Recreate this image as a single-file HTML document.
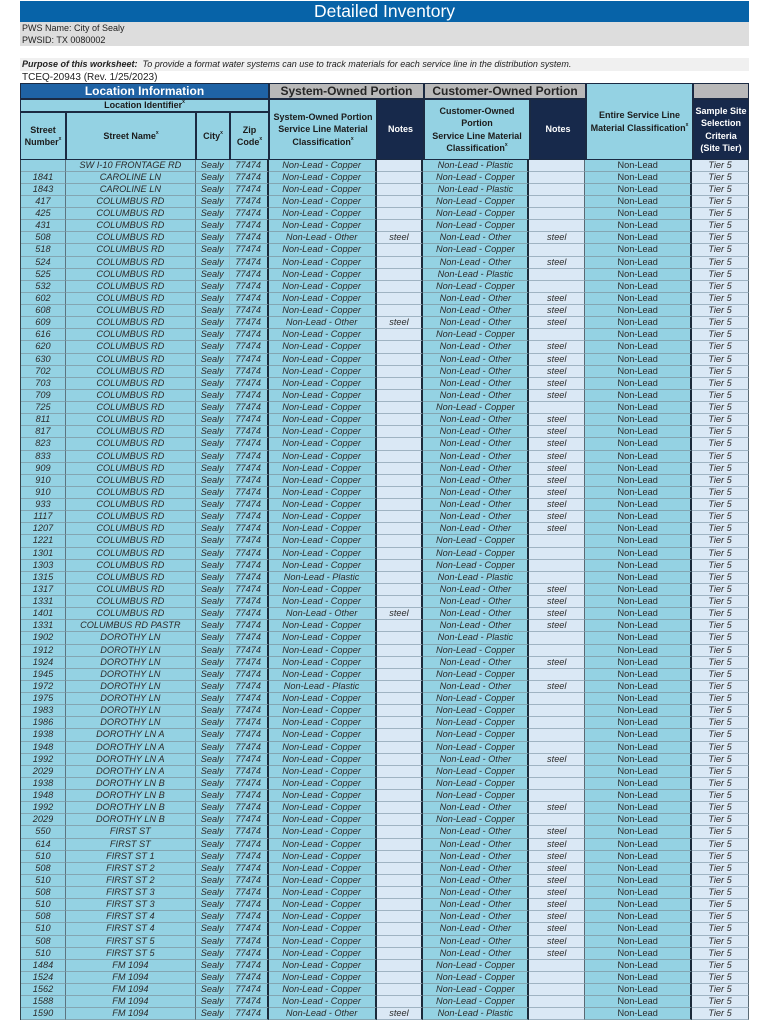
<!DOCTYPE html>
<html><head><meta charset="utf-8">
<style>
*{margin:0;padding:0;box-sizing:border-box}
body{width:770px;height:1024px;background:#fff;position:relative;overflow:hidden;font-family:"Liberation Sans",sans-serif;color:#222}
.a{position:absolute}
.t{left:20px;top:1px;width:729px;height:21px;background:#0763a8;color:#fff;font-size:17.5px;line-height:21px;text-align:center}
.pws{left:20px;top:22px;width:729px;height:24px;background:#dddddd;font-size:9px;line-height:12px;padding-left:2px;color:#222}
.pur{left:20px;top:58px;width:729px;height:13px;background:#f0f0f0;font-size:9px;line-height:13px;padding-left:2px;font-style:italic;color:#222}
.tc{left:22px;top:72px;font-size:10px;line-height:12px;color:#222}
.h{position:absolute;display:flex;align-items:center;justify-content:center;text-align:center;font-weight:bold;font-size:9px;line-height:12.5px;border:1px solid #1b2a42;color:#1c1c1c}
.h span{display:block}
.lb{background:#94d2e3}
.nv{background:#17294b;color:#fff}
.gr{background:#b9b9b9;font-size:12px;color:#262626}
.bl{background:#1f63a5;color:#fff;font-size:12px;border:1.5px solid #1b2a42}
sup{font-size:5px;vertical-align:5px;line-height:0}
#d{position:absolute;left:20px;top:159.5px;width:729px;border-left:1px solid #33444c}
.r{display:flex;height:12.14px}
.r i{display:block;height:100%;border-bottom:1px solid #83a6b2;text-align:center;font-size:9.2px;line-height:11.5px;white-space:nowrap;overflow:hidden;color:#2a2a2a;background:#94d2e3}
.r i:nth-child(1){width:45px;border-right:1px solid #5c7580}
.r i:nth-child(2){width:130px;border-right:1px solid #5c7580}
.r i:nth-child(3){width:34px;border-right:1px solid #9cbcc6}
.r i:nth-child(4){width:39px;border-right:2px solid #1b2a3a}
.r i:nth-child(5){width:108px;border-right:2px solid #1b2a3a}
.r i:nth-child(6){width:47px;border-right:2px solid #1b2a3a;background:#dae8f5;border-bottom-color:#9fb3c2}
.r i:nth-child(7){width:106px;border-right:2px solid #1b2a3a}
.r i:nth-child(8){width:56px;border-right:1px solid #5a6a74;background:#dae8f5;border-bottom-color:#9fb3c2}
.r i:nth-child(9){width:107px;border-right:2px solid #1b2a3a;font-style:normal}
.r i:nth-child(10){width:57px;border-right:1px solid #5a6a74;background:#dae8f5;border-bottom-color:#9fb3c2}
</style></head><body>
<div class="a t">Detailed Inventory</div>
<div class="a pws">PWS Name: City of Sealy<br>PWSID: TX 0080002</div>
<div class="a pur"><b>Purpose of this worksheet:</b>&nbsp; To provide a format water systems can use to track materials for each service line in the distribution system.</div>
<div class="a tc">TCEQ-20943 (Rev. 1/25/2023)</div>

<div class="h bl" style="left:20px;top:83px;width:249px;height:16px"><span>Location Information</span></div>
<div class="h gr" style="left:269px;top:83px;width:155px;height:16px"><span>System-Owned Portion</span></div>
<div class="h gr" style="left:424px;top:83px;width:162px;height:16px"><span>Customer-Owned Portion</span></div>
<div class="h lb" style="left:586px;top:83px;width:107px;height:77px"><span>Entire Service Line<br>Material Classification<sup>x</sup></span></div>
<div class="h gr" style="left:693px;top:83px;width:56px;height:16px"></div>
<div class="h lb" style="left:20px;top:99px;width:249px;height:13px"><span>Location Identifier<sup>x</sup></span></div>
<div class="h lb" style="left:20px;top:112px;width:46px;height:48px"><span>Street<br>Number<sup>x</sup></span></div>
<div class="h lb" style="left:66px;top:112px;width:130px;height:48px"><span>Street Name<sup>x</sup></span></div>
<div class="h lb" style="left:196px;top:112px;width:34px;height:48px"><span>City<sup>x</sup></span></div>
<div class="h lb" style="left:230px;top:112px;width:39px;height:48px"><span>Zip<br>Code<sup>x</sup></span></div>
<div class="h lb" style="left:269px;top:99px;width:108px;height:61px"><span>System-Owned Portion<br>Service Line Material<br>Classification<sup>x</sup></span></div>
<div class="h nv" style="left:377px;top:99px;width:47px;height:61px"><span>Notes</span></div>
<div class="h lb" style="left:424px;top:99px;width:106px;height:61px"><span>Customer-Owned<br>Portion<br>Service Line Material<br>Classification<sup>x</sup></span></div>
<div class="h nv" style="left:530px;top:99px;width:56px;height:61px"><span>Notes</span></div>
<div class="h nv" style="left:693px;top:99px;width:56px;height:61px"><span>Sample Site<br>Selection<br>Criteria<br>(Site Tier)</span></div>

<div id="d">
<div class="r"><i></i><i>SW I-10 FRONTAGE RD</i><i>Sealy</i><i>77474</i><i>Non-Lead - Copper</i><i></i><i>Non-Lead - Plastic</i><i></i><i>Non-Lead</i><i>Tier 5</i></div>
<div class="r"><i>1841</i><i>CAROLINE LN</i><i>Sealy</i><i>77474</i><i>Non-Lead - Copper</i><i></i><i>Non-Lead - Copper</i><i></i><i>Non-Lead</i><i>Tier 5</i></div>
<div class="r"><i>1843</i><i>CAROLINE LN</i><i>Sealy</i><i>77474</i><i>Non-Lead - Copper</i><i></i><i>Non-Lead - Plastic</i><i></i><i>Non-Lead</i><i>Tier 5</i></div>
<div class="r"><i>417</i><i>COLUMBUS RD</i><i>Sealy</i><i>77474</i><i>Non-Lead - Copper</i><i></i><i>Non-Lead - Copper</i><i></i><i>Non-Lead</i><i>Tier 5</i></div>
<div class="r"><i>425</i><i>COLUMBUS RD</i><i>Sealy</i><i>77474</i><i>Non-Lead - Copper</i><i></i><i>Non-Lead - Copper</i><i></i><i>Non-Lead</i><i>Tier 5</i></div>
<div class="r"><i>431</i><i>COLUMBUS RD</i><i>Sealy</i><i>77474</i><i>Non-Lead - Copper</i><i></i><i>Non-Lead - Copper</i><i></i><i>Non-Lead</i><i>Tier 5</i></div>
<div class="r"><i>508</i><i>COLUMBUS RD</i><i>Sealy</i><i>77474</i><i>Non-Lead - Other</i><i>steel</i><i>Non-Lead - Other</i><i>steel</i><i>Non-Lead</i><i>Tier 5</i></div>
<div class="r"><i>518</i><i>COLUMBUS RD</i><i>Sealy</i><i>77474</i><i>Non-Lead - Copper</i><i></i><i>Non-Lead - Copper</i><i></i><i>Non-Lead</i><i>Tier 5</i></div>
<div class="r"><i>524</i><i>COLUMBUS RD</i><i>Sealy</i><i>77474</i><i>Non-Lead - Copper</i><i></i><i>Non-Lead - Other</i><i>steel</i><i>Non-Lead</i><i>Tier 5</i></div>
<div class="r"><i>525</i><i>COLUMBUS RD</i><i>Sealy</i><i>77474</i><i>Non-Lead - Copper</i><i></i><i>Non-Lead - Plastic</i><i></i><i>Non-Lead</i><i>Tier 5</i></div>
<div class="r"><i>532</i><i>COLUMBUS RD</i><i>Sealy</i><i>77474</i><i>Non-Lead - Copper</i><i></i><i>Non-Lead - Copper</i><i></i><i>Non-Lead</i><i>Tier 5</i></div>
<div class="r"><i>602</i><i>COLUMBUS RD</i><i>Sealy</i><i>77474</i><i>Non-Lead - Copper</i><i></i><i>Non-Lead - Other</i><i>steel</i><i>Non-Lead</i><i>Tier 5</i></div>
<div class="r"><i>608</i><i>COLUMBUS RD</i><i>Sealy</i><i>77474</i><i>Non-Lead - Copper</i><i></i><i>Non-Lead - Other</i><i>steel</i><i>Non-Lead</i><i>Tier 5</i></div>
<div class="r"><i>609</i><i>COLUMBUS RD</i><i>Sealy</i><i>77474</i><i>Non-Lead - Other</i><i>steel</i><i>Non-Lead - Other</i><i>steel</i><i>Non-Lead</i><i>Tier 5</i></div>
<div class="r"><i>616</i><i>COLUMBUS RD</i><i>Sealy</i><i>77474</i><i>Non-Lead - Copper</i><i></i><i>Non-Lead - Copper</i><i></i><i>Non-Lead</i><i>Tier 5</i></div>
<div class="r"><i>620</i><i>COLUMBUS RD</i><i>Sealy</i><i>77474</i><i>Non-Lead - Copper</i><i></i><i>Non-Lead - Other</i><i>steel</i><i>Non-Lead</i><i>Tier 5</i></div>
<div class="r"><i>630</i><i>COLUMBUS RD</i><i>Sealy</i><i>77474</i><i>Non-Lead - Copper</i><i></i><i>Non-Lead - Other</i><i>steel</i><i>Non-Lead</i><i>Tier 5</i></div>
<div class="r"><i>702</i><i>COLUMBUS RD</i><i>Sealy</i><i>77474</i><i>Non-Lead - Copper</i><i></i><i>Non-Lead - Other</i><i>steel</i><i>Non-Lead</i><i>Tier 5</i></div>
<div class="r"><i>703</i><i>COLUMBUS RD</i><i>Sealy</i><i>77474</i><i>Non-Lead - Copper</i><i></i><i>Non-Lead - Other</i><i>steel</i><i>Non-Lead</i><i>Tier 5</i></div>
<div class="r"><i>709</i><i>COLUMBUS RD</i><i>Sealy</i><i>77474</i><i>Non-Lead - Copper</i><i></i><i>Non-Lead - Other</i><i>steel</i><i>Non-Lead</i><i>Tier 5</i></div>
<div class="r"><i>725</i><i>COLUMBUS RD</i><i>Sealy</i><i>77474</i><i>Non-Lead - Copper</i><i></i><i>Non-Lead - Copper</i><i></i><i>Non-Lead</i><i>Tier 5</i></div>
<div class="r"><i>811</i><i>COLUMBUS RD</i><i>Sealy</i><i>77474</i><i>Non-Lead - Copper</i><i></i><i>Non-Lead - Other</i><i>steel</i><i>Non-Lead</i><i>Tier 5</i></div>
<div class="r"><i>817</i><i>COLUMBUS RD</i><i>Sealy</i><i>77474</i><i>Non-Lead - Copper</i><i></i><i>Non-Lead - Other</i><i>steel</i><i>Non-Lead</i><i>Tier 5</i></div>
<div class="r"><i>823</i><i>COLUMBUS RD</i><i>Sealy</i><i>77474</i><i>Non-Lead - Copper</i><i></i><i>Non-Lead - Other</i><i>steel</i><i>Non-Lead</i><i>Tier 5</i></div>
<div class="r"><i>833</i><i>COLUMBUS RD</i><i>Sealy</i><i>77474</i><i>Non-Lead - Copper</i><i></i><i>Non-Lead - Other</i><i>steel</i><i>Non-Lead</i><i>Tier 5</i></div>
<div class="r"><i>909</i><i>COLUMBUS RD</i><i>Sealy</i><i>77474</i><i>Non-Lead - Copper</i><i></i><i>Non-Lead - Other</i><i>steel</i><i>Non-Lead</i><i>Tier 5</i></div>
<div class="r"><i>910</i><i>COLUMBUS RD</i><i>Sealy</i><i>77474</i><i>Non-Lead - Copper</i><i></i><i>Non-Lead - Other</i><i>steel</i><i>Non-Lead</i><i>Tier 5</i></div>
<div class="r"><i>910</i><i>COLUMBUS RD</i><i>Sealy</i><i>77474</i><i>Non-Lead - Copper</i><i></i><i>Non-Lead - Other</i><i>steel</i><i>Non-Lead</i><i>Tier 5</i></div>
<div class="r"><i>933</i><i>COLUMBUS RD</i><i>Sealy</i><i>77474</i><i>Non-Lead - Copper</i><i></i><i>Non-Lead - Other</i><i>steel</i><i>Non-Lead</i><i>Tier 5</i></div>
<div class="r"><i>1117</i><i>COLUMBUS RD</i><i>Sealy</i><i>77474</i><i>Non-Lead - Copper</i><i></i><i>Non-Lead - Other</i><i>steel</i><i>Non-Lead</i><i>Tier 5</i></div>
<div class="r"><i>1207</i><i>COLUMBUS RD</i><i>Sealy</i><i>77474</i><i>Non-Lead - Copper</i><i></i><i>Non-Lead - Other</i><i>steel</i><i>Non-Lead</i><i>Tier 5</i></div>
<div class="r"><i>1221</i><i>COLUMBUS RD</i><i>Sealy</i><i>77474</i><i>Non-Lead - Copper</i><i></i><i>Non-Lead - Copper</i><i></i><i>Non-Lead</i><i>Tier 5</i></div>
<div class="r"><i>1301</i><i>COLUMBUS RD</i><i>Sealy</i><i>77474</i><i>Non-Lead - Copper</i><i></i><i>Non-Lead - Copper</i><i></i><i>Non-Lead</i><i>Tier 5</i></div>
<div class="r"><i>1303</i><i>COLUMBUS RD</i><i>Sealy</i><i>77474</i><i>Non-Lead - Copper</i><i></i><i>Non-Lead - Copper</i><i></i><i>Non-Lead</i><i>Tier 5</i></div>
<div class="r"><i>1315</i><i>COLUMBUS RD</i><i>Sealy</i><i>77474</i><i>Non-Lead - Plastic</i><i></i><i>Non-Lead - Plastic</i><i></i><i>Non-Lead</i><i>Tier 5</i></div>
<div class="r"><i>1317</i><i>COLUMBUS RD</i><i>Sealy</i><i>77474</i><i>Non-Lead - Copper</i><i></i><i>Non-Lead - Other</i><i>steel</i><i>Non-Lead</i><i>Tier 5</i></div>
<div class="r"><i>1331</i><i>COLUMBUS RD</i><i>Sealy</i><i>77474</i><i>Non-Lead - Copper</i><i></i><i>Non-Lead - Other</i><i>steel</i><i>Non-Lead</i><i>Tier 5</i></div>
<div class="r"><i>1401</i><i>COLUMBUS RD</i><i>Sealy</i><i>77474</i><i>Non-Lead - Other</i><i>steel</i><i>Non-Lead - Other</i><i>steel</i><i>Non-Lead</i><i>Tier 5</i></div>
<div class="r"><i>1331</i><i>COLUMBUS RD PASTR</i><i>Sealy</i><i>77474</i><i>Non-Lead - Copper</i><i></i><i>Non-Lead - Other</i><i>steel</i><i>Non-Lead</i><i>Tier 5</i></div>
<div class="r"><i>1902</i><i>DOROTHY LN</i><i>Sealy</i><i>77474</i><i>Non-Lead - Copper</i><i></i><i>Non-Lead - Plastic</i><i></i><i>Non-Lead</i><i>Tier 5</i></div>
<div class="r"><i>1912</i><i>DOROTHY LN</i><i>Sealy</i><i>77474</i><i>Non-Lead - Copper</i><i></i><i>Non-Lead - Copper</i><i></i><i>Non-Lead</i><i>Tier 5</i></div>
<div class="r"><i>1924</i><i>DOROTHY LN</i><i>Sealy</i><i>77474</i><i>Non-Lead - Copper</i><i></i><i>Non-Lead - Other</i><i>steel</i><i>Non-Lead</i><i>Tier 5</i></div>
<div class="r"><i>1945</i><i>DOROTHY LN</i><i>Sealy</i><i>77474</i><i>Non-Lead - Copper</i><i></i><i>Non-Lead - Copper</i><i></i><i>Non-Lead</i><i>Tier 5</i></div>
<div class="r"><i>1972</i><i>DOROTHY LN</i><i>Sealy</i><i>77474</i><i>Non-Lead - Plastic</i><i></i><i>Non-Lead - Other</i><i>steel</i><i>Non-Lead</i><i>Tier 5</i></div>
<div class="r"><i>1975</i><i>DOROTHY LN</i><i>Sealy</i><i>77474</i><i>Non-Lead - Copper</i><i></i><i>Non-Lead - Copper</i><i></i><i>Non-Lead</i><i>Tier 5</i></div>
<div class="r"><i>1983</i><i>DOROTHY LN</i><i>Sealy</i><i>77474</i><i>Non-Lead - Copper</i><i></i><i>Non-Lead - Copper</i><i></i><i>Non-Lead</i><i>Tier 5</i></div>
<div class="r"><i>1986</i><i>DOROTHY LN</i><i>Sealy</i><i>77474</i><i>Non-Lead - Copper</i><i></i><i>Non-Lead - Copper</i><i></i><i>Non-Lead</i><i>Tier 5</i></div>
<div class="r"><i>1938</i><i>DOROTHY LN A</i><i>Sealy</i><i>77474</i><i>Non-Lead - Copper</i><i></i><i>Non-Lead - Copper</i><i></i><i>Non-Lead</i><i>Tier 5</i></div>
<div class="r"><i>1948</i><i>DOROTHY LN A</i><i>Sealy</i><i>77474</i><i>Non-Lead - Copper</i><i></i><i>Non-Lead - Copper</i><i></i><i>Non-Lead</i><i>Tier 5</i></div>
<div class="r"><i>1992</i><i>DOROTHY LN A</i><i>Sealy</i><i>77474</i><i>Non-Lead - Copper</i><i></i><i>Non-Lead - Other</i><i>steel</i><i>Non-Lead</i><i>Tier 5</i></div>
<div class="r"><i>2029</i><i>DOROTHY LN A</i><i>Sealy</i><i>77474</i><i>Non-Lead - Copper</i><i></i><i>Non-Lead - Copper</i><i></i><i>Non-Lead</i><i>Tier 5</i></div>
<div class="r"><i>1938</i><i>DOROTHY LN B</i><i>Sealy</i><i>77474</i><i>Non-Lead - Copper</i><i></i><i>Non-Lead - Copper</i><i></i><i>Non-Lead</i><i>Tier 5</i></div>
<div class="r"><i>1948</i><i>DOROTHY LN B</i><i>Sealy</i><i>77474</i><i>Non-Lead - Copper</i><i></i><i>Non-Lead - Copper</i><i></i><i>Non-Lead</i><i>Tier 5</i></div>
<div class="r"><i>1992</i><i>DOROTHY LN B</i><i>Sealy</i><i>77474</i><i>Non-Lead - Copper</i><i></i><i>Non-Lead - Other</i><i>steel</i><i>Non-Lead</i><i>Tier 5</i></div>
<div class="r"><i>2029</i><i>DOROTHY LN B</i><i>Sealy</i><i>77474</i><i>Non-Lead - Copper</i><i></i><i>Non-Lead - Copper</i><i></i><i>Non-Lead</i><i>Tier 5</i></div>
<div class="r"><i>550</i><i>FIRST ST</i><i>Sealy</i><i>77474</i><i>Non-Lead - Copper</i><i></i><i>Non-Lead - Other</i><i>steel</i><i>Non-Lead</i><i>Tier 5</i></div>
<div class="r"><i>614</i><i>FIRST ST</i><i>Sealy</i><i>77474</i><i>Non-Lead - Copper</i><i></i><i>Non-Lead - Other</i><i>steel</i><i>Non-Lead</i><i>Tier 5</i></div>
<div class="r"><i>510</i><i>FIRST ST 1</i><i>Sealy</i><i>77474</i><i>Non-Lead - Copper</i><i></i><i>Non-Lead - Other</i><i>steel</i><i>Non-Lead</i><i>Tier 5</i></div>
<div class="r"><i>508</i><i>FIRST ST 2</i><i>Sealy</i><i>77474</i><i>Non-Lead - Copper</i><i></i><i>Non-Lead - Other</i><i>steel</i><i>Non-Lead</i><i>Tier 5</i></div>
<div class="r"><i>510</i><i>FIRST ST 2</i><i>Sealy</i><i>77474</i><i>Non-Lead - Copper</i><i></i><i>Non-Lead - Other</i><i>steel</i><i>Non-Lead</i><i>Tier 5</i></div>
<div class="r"><i>508</i><i>FIRST ST 3</i><i>Sealy</i><i>77474</i><i>Non-Lead - Copper</i><i></i><i>Non-Lead - Other</i><i>steel</i><i>Non-Lead</i><i>Tier 5</i></div>
<div class="r"><i>510</i><i>FIRST ST 3</i><i>Sealy</i><i>77474</i><i>Non-Lead - Copper</i><i></i><i>Non-Lead - Other</i><i>steel</i><i>Non-Lead</i><i>Tier 5</i></div>
<div class="r"><i>508</i><i>FIRST ST 4</i><i>Sealy</i><i>77474</i><i>Non-Lead - Copper</i><i></i><i>Non-Lead - Other</i><i>steel</i><i>Non-Lead</i><i>Tier 5</i></div>
<div class="r"><i>510</i><i>FIRST ST 4</i><i>Sealy</i><i>77474</i><i>Non-Lead - Copper</i><i></i><i>Non-Lead - Other</i><i>steel</i><i>Non-Lead</i><i>Tier 5</i></div>
<div class="r"><i>508</i><i>FIRST ST 5</i><i>Sealy</i><i>77474</i><i>Non-Lead - Copper</i><i></i><i>Non-Lead - Other</i><i>steel</i><i>Non-Lead</i><i>Tier 5</i></div>
<div class="r"><i>510</i><i>FIRST ST 5</i><i>Sealy</i><i>77474</i><i>Non-Lead - Copper</i><i></i><i>Non-Lead - Other</i><i>steel</i><i>Non-Lead</i><i>Tier 5</i></div>
<div class="r"><i>1484</i><i>FM 1094</i><i>Sealy</i><i>77474</i><i>Non-Lead - Copper</i><i></i><i>Non-Lead - Copper</i><i></i><i>Non-Lead</i><i>Tier 5</i></div>
<div class="r"><i>1524</i><i>FM 1094</i><i>Sealy</i><i>77474</i><i>Non-Lead - Copper</i><i></i><i>Non-Lead - Copper</i><i></i><i>Non-Lead</i><i>Tier 5</i></div>
<div class="r"><i>1562</i><i>FM 1094</i><i>Sealy</i><i>77474</i><i>Non-Lead - Copper</i><i></i><i>Non-Lead - Copper</i><i></i><i>Non-Lead</i><i>Tier 5</i></div>
<div class="r"><i>1588</i><i>FM 1094</i><i>Sealy</i><i>77474</i><i>Non-Lead - Copper</i><i></i><i>Non-Lead - Copper</i><i></i><i>Non-Lead</i><i>Tier 5</i></div>
<div class="r"><i>1590</i><i>FM 1094</i><i>Sealy</i><i>77474</i><i>Non-Lead - Other</i><i>steel</i><i>Non-Lead - Plastic</i><i></i><i>Non-Lead</i><i>Tier 5</i></div>
</div>
</body></html>
